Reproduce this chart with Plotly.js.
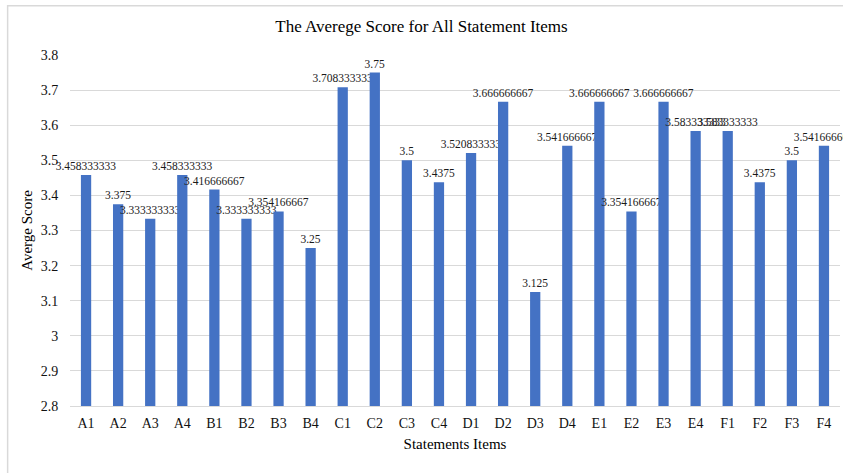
<!DOCTYPE html>
<html>
<head>
<meta charset="utf-8">
<script src="https://cdn.plot.ly/plotly-3.0.1.min.js"></script>
<style>html,body{margin:0;padding:0;background:#fff;}#chart{width:843px;height:473px;}</style>
</head>
<body>
<div id="chart"></div>
<script>
const categories = ["A1","A2","A3","A4","B1","B2","B3","B4","C1","C2","C3","C4","D1","D2","D3","D4","E1","E2","E3","E4","F1","F2","F3","F4"];
const scores = [3.458333333,3.375,3.333333333,3.458333333,3.416666667,3.333333333,3.354166667,3.25,3.708333333,3.75,3.5,3.4375,3.520833333,3.666666667,3.125,3.541666667,3.666666667,3.354166667,3.666666667,3.583333333,3.583333333,3.4375,3.5,3.541666667];
const labels = ["3.458333333","3.375","3.333333333","3.458333333","3.416666667","3.333333333","3.354166667","3.25","3.708333333","3.75","3.5","3.4375","3.520833333","3.666666667","3.125","3.541666667","3.666666667","3.354166667","3.666666667","3.583333333","3.583333333","3.4375","3.5","3.541666667"];
const yTicks = [2.8,2.9,3,3.1,3.2,3.3,3.4,3.5,3.6,3.7,3.8];
const axisFloor = 2.8;

const serif = "Liberation Serif, Times New Roman, serif";
const trace = {
  type: "bar",
  x: categories,
  y: scores.map(v => v - axisFloor),
  base: axisFloor,
  text: labels,
  textposition: "outside",
  constraintext: "none",
  cliponaxis: false,
  textfont: {family: serif, size: 11.5, color: "#1a1a1a"},
  marker: {color: "#4472C4"},
  hoverinfo: "x+text"
};

const layout = {
  width: 843, height: 473,
  margin: {l: 70, r: 3, t: 55, b: 67},
  paper_bgcolor: "#fff", plot_bgcolor: "#fff",
  bargap: 0.68,
  showlegend: false,
  title: {text: "The Averege Score for All Statement Items", font: {family: serif, size: 17, color: "#000"}, x: 0.5, xanchor: "center", y: 0.945, yanchor: "middle"},
  xaxis: {
    type: "category",
    tickfont: {family: serif, size: 14, color: "#111"},
    showgrid: false, showline: true, linecolor: "#d9d9d9", linewidth: 1,
    ticks: "outside", ticklen: 4, tickcolor: "rgba(0,0,0,0)", zeroline: false,
    title: {text: "Statements Items", font: {family: serif, size: 15, color: "#000"}, standoff: 8}
  },
  yaxis: {
    range: [2.8, 3.8],
    tickvals: yTicks,
    ticktext: yTicks.map(String),
    tickfont: {family: serif, size: 14, color: "#111"},
    showgrid: true, gridcolor: "#d9d9d9", gridwidth: 1,
    zeroline: false, showline: false,
    ticks: "outside", ticklen: 8, tickcolor: "rgba(0,0,0,0)",
    title: {text: "Averge Score", font: {family: serif, size: 15, color: "#000"}, standoff: 4}
  },
  shapes: [{
    type: "rect", xref: "paper", yref: "paper",
    x0: -0.081, x1: 1.02, y0: -0.2, y1: 1.14,
    line: {color: "#d9d9d9", width: 1.5}, layer: "below"
  }]
};

Plotly.newPlot("chart", [trace], layout, {displayModeBar: false, staticPlot: true});
</script>
</body>
</html>
